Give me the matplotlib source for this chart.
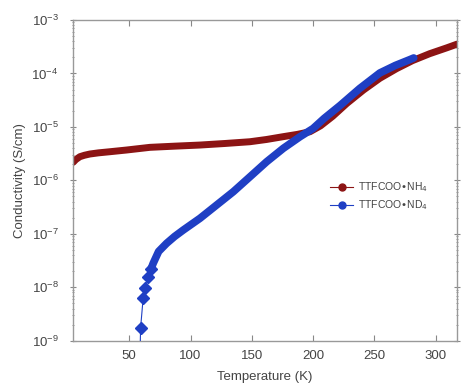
import numpy as np
import matplotlib
matplotlib.use('Agg')
import matplotlib.pyplot as plt
from matplotlib.ticker import LogLocator, NullFormatter

plt.rcParams['font.family'] = ['Liberation Sans', 'DejaVu Sans']

# TTFCOO-NH4, log10 of conductivity
t_nh4 = [4.3, 6.5, 9.8, 13.5, 17.9, 25, 34.3, 47.9, 66.9, 87, 107.7, 128, 148.5,
         162, 175.4, 187, 197.4, 206, 216, 227.5, 241, 254.4, 268, 281, 295, 309, 317.5]
log_nh4 = [-5.662, -5.61, -5.557, -5.53, -5.507, -5.485, -5.464, -5.432, -5.382, -5.36,
           -5.339, -5.31, -5.277, -5.235, -5.183, -5.14, -5.09, -4.98, -4.80, -4.56,
           -4.31, -4.09, -3.91, -3.76, -3.63, -3.52, -3.45]

# TTFCOO-ND4: sparse low-T points, then dense band
t_nd4_low = [58.5, 59.3, 61.4, 63.1, 65.5, 67.7]
log_nd4_low = [-9.6, -8.757, -8.196, -8.02, -7.814, -7.664]
t_nd4 = [67.7, 69.6, 74, 80.5, 87, 94.1, 107.7, 121.3, 134.9, 148.5, 162.1, 175.7,
         189.3, 199.9, 209, 221.9, 238, 254.4, 267, 278.9, 282]
log_nd4 = [-7.664, -7.55, -7.33, -7.178, -7.05, -6.929, -6.71, -6.461, -6.212, -5.932,
           -5.651, -5.40, -5.183, -5.03, -4.84, -4.60, -4.28, -3.99, -3.85, -3.74, -3.71]

red = '#8c1414'
blue = '#1f3fc4'
grey = '#444444'

fig = plt.figure(figsize=(4.62, 3.85), dpi=100)
ax = fig.add_axes([0.157, 0.115, 0.833, 0.833])

ax.plot(t_nh4, 10 ** np.array(log_nh4), '-', color=red, lw=5, solid_capstyle='round',
        solid_joinstyle='round', zorder=2)

ax.plot(t_nd4_low, 10 ** np.array(log_nd4_low), '-', color=blue, lw=0.8, zorder=3)
ax.plot(t_nd4_low[1:], 10 ** np.array(log_nd4_low[1:]), 'D', color=blue, ms=6, zorder=3)
ax.plot(t_nd4, 10 ** np.array(log_nd4), '-', color=blue, lw=5.5, solid_capstyle='round',
        solid_joinstyle='round', zorder=3)

# legend handles
ax.plot([], [], '-o', color=red, lw=0.8, ms=5, label='TTFCOO•NH$_4$')
ax.plot([], [], '-o', color=blue, lw=0.8, ms=5, label='TTFCOO•ND$_4$')
ax.legend(loc='center left', bbox_to_anchor=(0.645, 0.45), frameon=False,
          fontsize=7.5, handlelength=2.2, handletextpad=0.5, labelspacing=0.4,
          labelcolor=grey)

ax.set_yscale('log')
ax.set_xlim(3.8, 317.6)
ax.set_ylim(1e-9, 1e-3)
ax.set_xticks([50, 100, 150, 200, 250, 300])
ax.yaxis.set_major_locator(LogLocator(base=10, numticks=10))
ax.yaxis.set_minor_locator(LogLocator(base=10, subs=np.arange(2, 10), numticks=10))
ax.yaxis.set_minor_formatter(NullFormatter())

for s in ax.spines.values():
    s.set_color('#999999')
    s.set_linewidth(1.0)

ax.tick_params(which='both', direction='in', top=True, right=True, colors='#888888',
               labelcolor=grey, labelsize=9.5)
ax.tick_params(which='major', length=4)
ax.tick_params(which='minor', length=2)
ax.tick_params(axis='y', which='both', direction='inout', pad=8)
ax.tick_params(axis='x', pad=7)

ax.set_xlabel('Temperature (K)', color=grey, fontsize=9.5, labelpad=6)
ax.set_ylabel('Conductivity (S/cm)', color=grey, fontsize=9.5, labelpad=4)

fig.savefig('out.png', dpi=100)
